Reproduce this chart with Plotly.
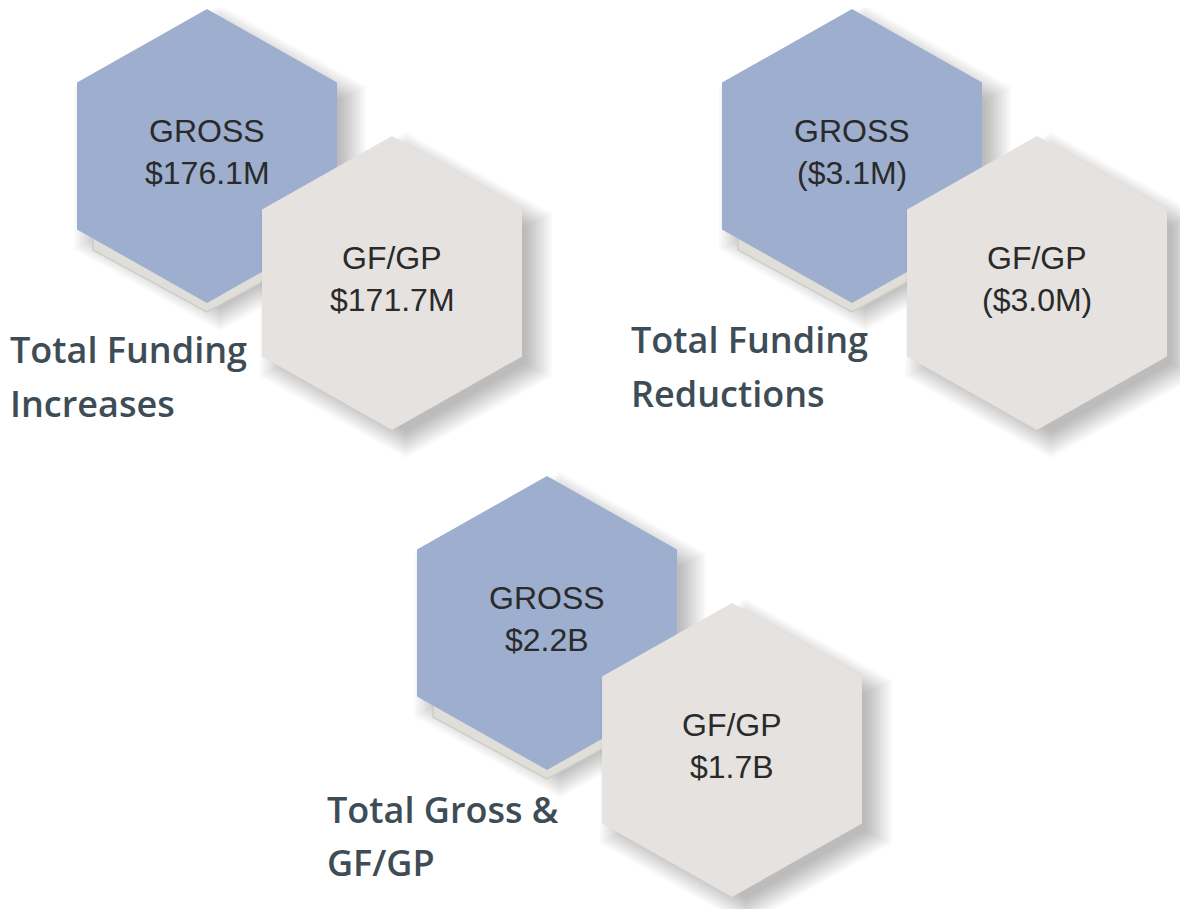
import plotly.graph_objects as go

# ---- data ----
title_line1 = ["Total Funding", "Total Funding", "Total Gross &"]
title_line2 = ["Increases", "Reductions", "GF/GP"]
series_names = ["GROSS", "GF/GP"]
gross_values = [176.1, -3.1, 2.2]
gfgp_values = [171.7, -3.0, 1.7]
value_units = ["M", "M", "B"]


def fmt(v, unit):
    s = f"${abs(v):.1f}{unit}"
    return f"({s})" if v < 0 else s


# ---- layout constants ----
W, H = 1188, 909
PAD = 8  # page body margin
group_offsets = [(0, 0), (645, 0), (340, 467)]
blue_c = (207, 156)
gray_c = (392, 283)
title_pos = [(8, 349, 403), (629, 339, 393), (325, 809, 862)]
R, HW = 147, 130

BLUE = "#9eaecf"
GRAY = "#e5e2df"
PLATE = "#dfded8"
TITLE_C = "#3e4c56"
TEXT_C = "#2a2a2a"


def hex_path(cx, cy, r, hw):
    pts = [(cx, cy - r), (cx + hw, cy - r / 2), (cx + hw, cy + r / 2),
           (cx, cy + r), (cx - hw, cy + r / 2), (cx - hw, cy - r / 2)]
    return "M " + " L ".join(f"{x:.1f},{y:.1f}" for x, y in pts) + " Z"


shapes = []
annotations = []


def add_shadow(cx, cy, r, hw, dx=14, dy=12, a=0.02):
    for s in range(16, -12, -2):
        shapes.append(dict(type="path", xref="x", yref="y",
                           path=hex_path(cx + dx, cy + dy, r + s, hw + s),
                           fillcolor=f"rgba(0,0,0,{a})", line=dict(width=0)))


def add_hex(cx, cy, color):
    shapes.append(dict(type="path", xref="x", yref="y",
                       path=hex_path(cx, cy, R, HW),
                       fillcolor=color, line=dict(width=0)))


hex_font = dict(family="Liberation Sans", size=32, color=TEXT_C)
title_font = dict(family="Open Sans", size=36, color=TITLE_C, weight=600)

for i, (ox, oy) in enumerate(group_offsets):
    bx, by = blue_c[0] + ox, blue_c[1] + oy
    gx, gy = gray_c[0] + ox, gray_c[1] + oy
    # blue hex with its plate and shadow
    add_shadow(bx, by, R, HW, dx=13, dy=12, a=0.018)
    shapes.append(dict(type="path", xref="x", yref="y",
                       path=hex_path(bx, by + 32, 124, 114),
                       fillcolor=PLATE, line=dict(width=1.5, color="#cecdc7")))
    add_hex(bx, by, BLUE)
    # gray hex with shadow
    add_shadow(gx, gy, R, HW)
    add_hex(gx, gy, GRAY)

    for (cx, cy), name, val in [((bx, by), series_names[0], fmt(gross_values[i], value_units[i])),
                                ((gx, gy), series_names[1], fmt(gfgp_values[i], value_units[i]))]:
        annotations.append(dict(x=cx, y=cy - 25, xref="x", yref="y", text=name,
                                showarrow=False, xanchor="center", yanchor="middle",
                                font=hex_font))
        annotations.append(dict(x=cx, y=cy + 17, xref="x", yref="y", text=val,
                                showarrow=False, xanchor="center", yanchor="middle",
                                font=hex_font))

    tx, ty1, ty2 = title_pos[i]
    annotations.append(dict(x=tx, y=ty1, xref="x", yref="y", text=title_line1[i],
                            showarrow=False, xanchor="left", yanchor="middle",
                            font=title_font))
    annotations.append(dict(x=tx, y=ty2, xref="x", yref="y", text=title_line2[i],
                            showarrow=False, xanchor="left", yanchor="middle",
                            font=title_font))

fig = go.Figure()
fig.add_trace(go.Scatter(x=[PAD, W], y=[PAD, H], mode="markers",
                         marker=dict(opacity=0), hoverinfo="skip", showlegend=False))
fig.update_layout(
    width=W - PAD, height=H - PAD,
    margin=dict(l=0, r=0, t=0, b=0),
    paper_bgcolor="white", plot_bgcolor="white",
    xaxis=dict(range=[PAD, W], visible=False, fixedrange=True),
    yaxis=dict(range=[H, PAD], visible=False, fixedrange=True),
    shapes=shapes, annotations=annotations, showlegend=False,
)
fig.write_html("out.html", config={"displayModeBar": False})
